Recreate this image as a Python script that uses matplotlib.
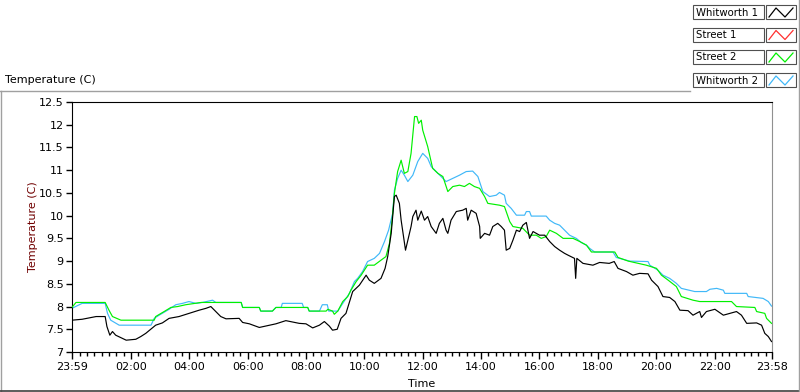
import matplotlib
matplotlib.use("Agg")
import matplotlib.pyplot as plt
from matplotlib.lines import Line2D
from matplotlib.patches import Rectangle
import numpy as np

plt.rcParams["font.family"] = ["DejaVu Sans"]

# hours since midnight (first point is 23:59 of the previous day)
black_h = [-0.02, 0.33, 0.81, 1.12, 1.18, 1.28, 1.37, 1.48, 1.84, 2.17,
           2.34, 2.51, 2.68, 2.85, 3.08, 3.31, 3.65, 3.99, 4.34, 4.57,
           4.74, 4.91, 5.08, 5.26, 5.71, 5.83, 6.06, 6.40, 6.97, 7.31,
           7.77, 8.00, 8.23, 8.46, 8.63, 8.80, 8.91, 9.07, 9.20, 9.37,
           9.60, 9.83, 10.06, 10.17, 10.34, 10.57, 10.71, 10.80, 10.92, 11.03,
           11.09, 11.20, 11.26, 11.34, 11.41, 11.49, 11.60, 11.66, 11.77, 11.83,
           11.95, 12.06, 12.17, 12.29, 12.46, 12.57, 12.69, 12.80, 12.86, 12.97,
           13.15, 13.37, 13.49, 13.54, 13.66, 13.83, 13.95, 13.97, 14.12, 14.29,
           14.40, 14.57, 14.69, 14.80, 14.86, 14.98, 15.09, 15.21, 15.32, 15.43,
           15.55, 15.66, 15.78, 16.00, 16.18, 16.35, 16.52, 16.69, 16.86, 16.98,
           17.20, 17.24, 17.28, 17.49, 17.83, 18.06, 18.39, 18.56, 18.69, 18.98,
           19.20, 19.43, 19.72, 19.84, 20.06, 20.23, 20.46, 20.64, 20.81, 21.09,
           21.26, 21.49, 21.55, 21.72, 22.01, 22.30, 22.52, 22.75, 22.92, 23.10,
           23.44, 23.61, 23.72, 23.84, 23.95]
black_v = [7.70, 7.72, 7.78, 7.78, 7.56, 7.37, 7.45, 7.37, 7.26, 7.28,
           7.34, 7.41, 7.50, 7.59, 7.64, 7.74, 7.78, 7.85, 7.92, 7.96,
           8.00, 7.89, 7.78, 7.73, 7.74, 7.65, 7.62, 7.54, 7.62, 7.69,
           7.63, 7.62, 7.53, 7.59, 7.67, 7.57, 7.48, 7.50, 7.74, 7.85,
           8.33, 8.47, 8.69, 8.58, 8.51, 8.62, 8.84, 9.10, 9.61, 10.42,
           10.45, 10.27, 9.90, 9.54, 9.24, 9.46, 9.76, 9.98, 10.12, 9.90,
           10.10, 9.90, 9.98, 9.76, 9.61, 9.83, 9.94, 9.68, 9.61, 9.90,
           10.09, 10.12, 10.16, 9.90, 10.12, 10.05, 9.76, 9.50, 9.61, 9.57,
           9.76, 9.83, 9.76, 9.68, 9.24, 9.28, 9.46, 9.68, 9.65, 9.79,
           9.85, 9.50, 9.65, 9.57, 9.57, 9.43, 9.32, 9.24, 9.17, 9.13,
           9.06, 8.62, 9.06, 8.95, 8.91, 8.97, 8.95, 8.99, 8.84, 8.77,
           8.69, 8.73, 8.72, 8.58, 8.44, 8.22, 8.20, 8.11, 7.92, 7.91,
           7.81, 7.89, 7.76, 7.89, 7.94, 7.81, 7.85, 7.89, 7.81, 7.63,
           7.64, 7.59, 7.41, 7.34, 7.23]

green_h = [-0.02, 0.12, 1.12, 1.25, 1.37, 1.66, 2.80, 2.85, 3.14, 3.37,
           3.60, 3.88, 4.41, 5.78, 5.83, 6.40, 6.45, 6.85, 6.97, 8.06,
           8.11, 8.69, 8.75, 8.91, 8.97, 9.09, 9.26, 9.43, 9.54, 9.72,
           9.89, 10.00, 10.11, 10.34, 10.57, 10.74, 10.86, 10.95, 11.03, 11.14,
           11.26, 11.37, 11.49, 11.60, 11.72, 11.80, 11.86, 11.95, 12.00, 12.17,
           12.34, 12.52, 12.69, 12.86, 13.03, 13.26, 13.43, 13.60, 13.77, 13.95,
           14.12, 14.23, 14.63, 14.80, 14.98, 15.09, 15.43, 15.66, 15.89, 16.06,
           16.23, 16.35, 16.58, 16.81, 17.15, 17.38, 17.61, 17.78, 18.58, 18.69,
           19.04, 19.66, 20.01, 20.18, 20.41, 20.69, 20.86, 21.26, 21.49, 22.58,
           22.75, 23.38, 23.44, 23.72, 23.78, 23.95]
green_v = [7.98, 8.09, 8.09, 7.92, 7.78, 7.70, 7.70, 7.78, 7.89, 7.98,
           8.00, 8.04, 8.09, 8.09, 7.98, 7.98, 7.90, 7.90, 7.98, 7.98,
           7.90, 7.90, 7.94, 7.90, 7.83, 7.90, 8.11, 8.22, 8.36, 8.55,
           8.69, 8.80, 8.91, 8.91, 9.02, 9.10, 9.39, 9.90, 10.49, 10.97,
           11.22, 10.93, 10.97, 11.37, 12.18, 12.18, 12.03, 12.10, 11.88, 11.52,
           11.04, 10.93, 10.86, 10.53, 10.64, 10.67, 10.64, 10.71, 10.64, 10.60,
           10.42, 10.27, 10.23, 10.20, 9.87, 9.76, 9.72, 9.57, 9.57, 9.50,
           9.54, 9.68, 9.61, 9.50, 9.50, 9.43, 9.35, 9.20, 9.20, 9.08,
           9.00, 8.91, 8.84, 8.69, 8.58, 8.44, 8.22, 8.14, 8.11, 8.11,
           8.00, 7.98, 7.89, 7.85, 7.74, 7.63]

blue_h = [-0.02, 0.33, 1.12, 1.20, 1.31, 1.60, 2.69, 2.80, 2.97, 3.31,
          3.54, 3.77, 3.99, 4.23, 4.45, 4.80, 4.91, 5.78, 5.83, 6.40,
          6.45, 6.85, 6.97, 7.15, 7.19, 7.87, 7.92, 8.06, 8.11, 8.46,
          8.56, 8.73, 8.78, 9.09, 9.26, 9.49, 9.66, 9.77, 9.94, 10.11,
          10.34, 10.52, 10.69, 10.83, 10.97, 11.03, 11.14, 11.26, 11.37, 11.49,
          11.66, 11.83, 12.00, 12.17, 12.29, 12.46, 12.63, 12.80, 13.03, 13.26,
          13.49, 13.71, 13.89, 14.06, 14.29, 14.52, 14.63, 14.80, 14.86, 15.03,
          15.21, 15.49, 15.55, 15.66, 15.72, 16.23, 16.35, 16.52, 16.69, 16.86,
          17.03, 17.26, 17.43, 17.61, 17.72, 17.89, 18.52, 18.63, 19.09, 19.72,
          19.78, 20.06, 20.23, 20.46, 20.69, 20.86, 21.32, 21.72, 21.84, 22.07,
          22.30, 22.35, 23.10, 23.15, 23.66, 23.84, 23.95]
blue_v = [7.96, 8.07, 8.07, 7.85, 7.70, 7.59, 7.59, 7.74, 7.81, 7.94,
          8.04, 8.07, 8.11, 8.07, 8.09, 8.14, 8.09, 8.09, 7.98, 7.98,
          7.90, 7.90, 7.98, 7.98, 8.07, 8.07, 7.98, 7.98, 7.90, 7.90,
          8.04, 8.04, 7.90, 7.90, 8.07, 8.29, 8.55, 8.62, 8.77, 8.99,
          9.06, 9.17, 9.43, 9.68, 10.05, 10.56, 10.82, 11.00, 10.89, 10.75,
          10.89, 11.19, 11.37, 11.26, 11.08, 10.97, 10.86, 10.75, 10.82, 10.89,
          10.97, 10.98, 10.86, 10.53, 10.42, 10.45, 10.51, 10.45, 10.27, 10.16,
          10.01, 10.01, 10.09, 10.09, 9.99, 9.99, 9.90, 9.83, 9.79, 9.68,
          9.57, 9.50, 9.41, 9.35, 9.28, 9.20, 9.20, 9.08, 9.00, 8.99,
          8.91, 8.80, 8.69, 8.62, 8.51, 8.40, 8.33, 8.33, 8.38, 8.40,
          8.36, 8.29, 8.29, 8.22, 8.18, 8.11, 8.01]

names = ["Whitworth 1", "Street 1", "Street 2", "Whitworth 2"]
colors = ["#000000", "#ff3030", "#00f000", "#40b8f8"]

x_ticks = [-1 / 60, 2, 4, 6, 8, 10, 12, 14, 16, 18, 20, 22, 24 - 2 / 60]
x_labels = ["23:59", "02:00", "04:00", "06:00", "08:00", "10:00", "12:00",
            "14:00", "16:00", "18:00", "20:00", "22:00", "23:58"]

W, H = 800, 392


def fx(x):
    return x / W


def fy(y):
    return 1 - y / H


fig = plt.figure(figsize=(8, 3.92), dpi=100)
ax = fig.add_axes([fx(72), fy(352), 700 / W, 250 / H])

# LabVIEW draws the first plot on top
ax.plot(blue_h, blue_v, color=colors[3], lw=0.85, zorder=2)
ax.plot(green_h, green_v, color=colors[2], lw=0.85, zorder=3)
ax.plot(black_h, black_v, color=colors[0], lw=0.85, zorder=4)

ax.set_xlim(-1 / 60, 24 - 2 / 60)
ax.set_ylim(7, 12.5)
yt = np.arange(7, 12.51, 0.5)
ax.set_yticks(yt)
ax.set_yticklabels(["%g" % v for v in yt])
ax.set_xticks(x_ticks)
ax.set_xticklabels(x_labels)
minor = [m / 4 for m in range(1, 96) if m % 8 != 0]
ax.set_xticks(minor, minor=True)
ax.tick_params(direction="out", length=4, width=1, labelsize=8, pad=2)
ax.tick_params(axis="x", which="minor", direction="out", length=3, width=1)
ax.tick_params(axis="x", which="major", length=5)
for s in ["left", "bottom", "top"]:
    ax.spines[s].set_color("black")
ax.spines["right"].set_color("#909090")

ax.set_xlabel("Time", fontsize=8, labelpad=5)
ax.set_ylabel("Temperature (C)", fontsize=8, color="#700000", labelpad=1)

fig.text(fx(5), fy(80), "Temperature (C)", fontsize=8, va="center", ha="left")

# outer frame
fig.add_artist(Line2D([fx(0), fx(690)], [fy(90.5), fy(90.5)], color="#a0a0a0", lw=1))
fig.add_artist(Line2D([fx(0.5), fx(0.5)], [fy(90.5), fy(392)], color="#a0a0a0", lw=1))
fig.add_artist(Line2D([fx(0), fx(800)], [fy(391), fy(391)], color="#404040", lw=1.2))
fig.add_artist(Line2D([fx(798.5), fx(798.5)], [fy(0), fy(392)], color="#a0a0a0", lw=1))

# legend boxes
tops = [5, 27.5, 50, 73]
for name, col, top in zip(names, colors, tops):
    fig.add_artist(Rectangle((fx(693), fy(top + 14)), 71 / W, 14 / H,
                             facecolor="white", edgecolor="#505050", lw=0.8))
    fig.add_artist(Rectangle((fx(766), fy(top + 14)), 30 / W, 14 / H,
                             facecolor="white", edgecolor="#505050", lw=0.8))
    fig.text(fx(695.5), fy(top + 7.5), name, fontsize=7.3, va="center", ha="left")
    zx = [769, 776, 785, 793]
    zy = [top + 12, top + 3, top + 12, top + 3]
    fig.add_artist(Line2D([fx(v) for v in zx], [fy(v) for v in zy], color=col, lw=0.9))

fig.savefig("out.png", dpi=100)
